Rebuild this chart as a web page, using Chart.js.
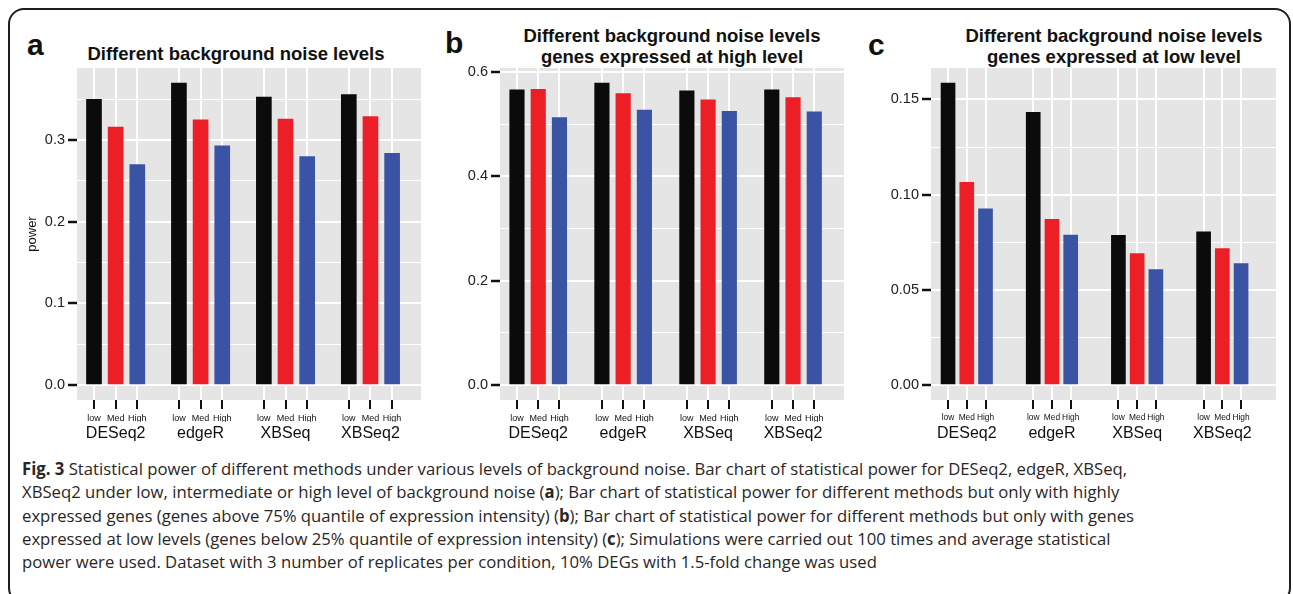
<!DOCTYPE html>
<html>
<head>
<meta charset="utf-8">
<title>Fig. 3 statistical power</title>
<script src="https://cdn.jsdelivr.net/npm/chart.js@4.4.1/dist/chart.umd.min.js"></script>
<style>
    html, body { margin: 0; padding: 0; background: #fff; }
    body {
        width: 1293px; height: 594px; position: relative; overflow: hidden;
        font-family: "Liberation Sans", Arial, sans-serif;
    }
    .frame {
        position: absolute; left: 8px; top: 8px; width: 1283px; height: 596px;
        border: 2px solid #1e1e1e; border-radius: 16px; box-sizing: border-box;
    }
    .panel-letter {
        position: absolute; font-size: 30px; line-height: 30px;
        font-weight: bold; color: #111;
    }
    .panel-title {
        position: absolute; width: 420px; text-align: center;
        font-size: 18.5px; line-height: 21.5px; font-weight: bold; color: #111;
    }
    canvas { position: absolute; }
    .caption {
        position: absolute; left: 22px; top: 457px;
        font-family: "Open Sans", sans-serif; font-size: 17px;
        line-height: 23.25px; color: #2a2627;
    }
    .caption div { white-space: nowrap; transform-origin: 0 0; }
</style>
</head>
<body>
<div class="frame"></div>

<div class="panel-letter" style="left:27px; top:29.5px;">a</div>
<div class="panel-letter" style="left:445px; top:27.5px;">b</div>
<div class="panel-letter" style="left:868px; top:29.5px;">c</div>

<div class="panel-title" style="left:26px; top:42.5px;">Different background noise levels</div>
<div class="panel-title" style="left:462px; top:24.6px;">Different background noise levels<br>genes expressed at high level</div>
<div class="panel-title" style="left:904px; top:24.6px;">Different background noise levels<br>genes expressed at low level</div>

<canvas id="chartA" width="411" height="384" style="left:15px; top:60px;"></canvas>
<canvas id="chartB" width="394" height="384" style="left:455px; top:60px;"></canvas>
<canvas id="chartC" width="401" height="384" style="left:880px; top:60px;"></canvas>

<div class="caption" id="caption">
    <div><b>Fig. 3</b> Statistical power of different methods under various levels of background noise. Bar chart of statistical power for DESeq2, edgeR, XBSeq,</div>
    <div>XBSeq2 under low, intermediate or high level of background noise (<b>a</b>); Bar chart of statistical power for different methods but only with highly</div>
    <div>expressed genes (genes above 75% quantile of expression intensity) (<b>b</b>); Bar chart of statistical power for different methods but only with genes</div>
    <div>expressed at low levels (genes below 25% quantile of expression intensity) (<b>c</b>); Simulations were carried out 100 times and average statistical</div>
    <div>power were used. Dataset with 3 number of replicates per condition, 10% DEGs with 1.5-fold change was used</div>
</div>

<script>
// Categories
const METHODS = ['DESeq2', 'edgeR', 'XBSeq', 'XBSeq2'];
const NOISE_LEVELS = ['low', 'Med', 'High'];

// Panel a: all genes
const allGenesLow = [0.350, 0.370, 0.353, 0.356];
const allGenesMed = [0.316, 0.325, 0.326, 0.329];
const allGenesHigh = [0.270, 0.293, 0.280, 0.284];
const allGenesTicks = [0, 0.1, 0.2, 0.3];

// Panel b: genes expressed at high level
const highExprLow = [0.566, 0.579, 0.564, 0.566];
const highExprMed = [0.567, 0.559, 0.547, 0.551];
const highExprHigh = [0.513, 0.527, 0.525, 0.524];
const highExprTicks = [0, 0.2, 0.4, 0.6];

// Panel c: genes expressed at low level
const lowExprLow = [0.1586, 0.1433, 0.0786, 0.0804];
const lowExprMed = [0.1064, 0.0870, 0.0690, 0.0717];
const lowExprHigh = [0.0925, 0.0787, 0.0606, 0.0638];
const lowExprTicks = [0, 0.05, 0.10, 0.15];

// Styling
const LEVEL_COLORS = ['#0b0b0b', '#ec1f26', '#3a53a4'];
const PANEL_GRAY = '#e5e5e5';
const FONT = '"Liberation Sans", Arial, sans-serif';
const X_MIN = -0.2;
const X_MAX = 3.85;

const PANELS = [
    { id: 'chartA', series: [allGenesLow, allGenesMed, allGenesHigh], ticks: allGenesTicks,
      decimals: 1, axisTitle: 'power', axisWidth: 62, levelStep: 0.255, barWidth: 15, levelFont: 9 },
    { id: 'chartB', series: [highExprLow, highExprMed, highExprHigh], ticks: highExprTicks,
      decimals: 1, axisTitle: '', axisWidth: 45, levelStep: 0.25, barWidth: 14.5, levelFont: 9 },
    { id: 'chartC', series: [lowExprLow, lowExprMed, lowExprHigh], ticks: lowExprTicks,
      decimals: 2, axisTitle: '', axisWidth: 51, levelStep: 0.22, barWidth: 14, levelFont: 8.4 }
];

// gray ggplot-like panel behind the grid
const panelBackground = {
    id: 'panelBackground',
    beforeDraw(chart) {
        const { ctx, chartArea: a } = chart;
        ctx.save();
        ctx.fillStyle = PANEL_GRAY;
        ctx.fillRect(a.left, a.top, a.right - a.left, a.bottom - a.top);
        ctx.restore();
    }
};

document.addEventListener('DOMContentLoaded', () => {
    PANELS.forEach(createPanelChart);
    document.fonts.ready.then(fitCaption);
});

function buildYTicks(majors, max) {
    const step = majors[1] - majors[0];
    const ticks = majors.map(v => ({ value: v }));
    majors.forEach(v => {
        const mid = v + step / 2;
        if (mid <= max) ticks.push({ value: mid, minor: true });
    });
    return ticks.sort((a, b) => a.value - b.value);
}

function createPanelChart(panel) {
    const canvas = document.getElementById(panel.id);
    if (!canvas) return;

    const yMax = Math.max(...panel.series.flat());
    const pad = yMax * 0.05;
    const xPos = (m, l) => m + l * panel.levelStep;

    const datasets = panel.series.map((values, l) => ({
        label: NOISE_LEVELS[l],
        data: values.map((v, m) => ({ x: xPos(m, l), y: v })),
        backgroundColor: LEVEL_COLORS[l],
        barThickness: panel.barWidth,
        grouped: false
    }));

    const levelTicks = [];
    METHODS.forEach((_, m) => NOISE_LEVELS.forEach((_, l) => levelTicks.push({ value: xPos(m, l) })));
    const methodTicks = METHODS.map((_, m) => ({ value: xPos(m, 1) }));
    const yTicks = buildYTicks(panel.ticks, yMax + pad);
    const isMinor = ctx => ctx.tick && ctx.tick.minor;

    new Chart(canvas, {
        type: 'bar',
        data: { datasets },
        options: {
            responsive: false,
            animation: false,
            layout: { padding: { top: 8, right: 5, bottom: 0, left: 0 } },
            plugins: { legend: { display: false }, tooltip: { enabled: false } },
            scales: {
                x: {
                    type: 'linear', position: 'bottom', min: X_MIN, max: X_MAX, offset: false,
                    afterBuildTicks: axis => { axis.ticks = levelTicks.map(t => ({ ...t })); },
                    afterFit: axis => { axis.height = 22; axis.paddingLeft = 0; axis.paddingRight = 0; },
                    ticks: {
                        autoSkip: false, maxRotation: 0, minRotation: 0, padding: 4,
                        font: { family: FONT, size: panel.levelFont }, color: '#111',
                        callback: (v, i) => NOISE_LEVELS[i % 3]
                    },
                    grid: { offset: false, color: '#ffffff', lineWidth: 2, tickColor: '#111', tickWidth: 2, tickLength: 9 },
                    border: { display: false }
                },
                x2: {
                    type: 'linear', position: 'bottom', min: X_MIN, max: X_MAX, offset: false,
                    afterBuildTicks: axis => { axis.ticks = methodTicks.map(t => ({ ...t })); },
                    afterFit: axis => { axis.height = 22; axis.paddingLeft = 0; axis.paddingRight = 0; },
                    ticks: {
                        autoSkip: false, maxRotation: 0, minRotation: 0, padding: -6,
                        font: { family: FONT, size: 16 }, color: '#111',
                        callback: (v, i) => METHODS[i]
                    },
                    grid: { display: false, offset: false },
                    border: { display: false }
                },
                y: {
                    type: 'linear', min: -pad, max: yMax + pad,
                    afterBuildTicks: axis => { axis.ticks = yTicks.map(t => ({ ...t })); },
                    afterFit: axis => { axis.width = panel.axisWidth; axis.paddingTop = 0; axis.paddingBottom = 0; },
                    ticks: {
                        autoSkip: false, padding: 3,
                        font: { family: FONT, size: 14.5 }, color: '#222',
                        callback: (v, i, ticks) => ticks[i].minor ? '' : v.toFixed(panel.decimals)
                    },
                    grid: {
                        color: '#ffffff',
                        lineWidth: ctx => isMinor(ctx) ? 1 : 2,
                        tickColor: ctx => isMinor(ctx) ? 'rgba(0,0,0,0)' : '#111',
                        tickWidth: 2.5,
                        tickLength: 9
                    },
                    border: { display: false },
                    title: {
                        display: !!panel.axisTitle, text: panel.axisTitle, color: '#111',
                        font: { family: FONT, size: 13 }, padding: { top: 10, bottom: 0 }
                    }
                }
            }
        },
        plugins: [panelBackground]
    });
}

// squeeze caption lines to the condensed width of the original typeface
function fitCaption() {
    const lines = document.querySelectorAll('#caption div');
    if (!lines.length) return;
    const natural = lines[0].scrollWidth;
    const scale = 1112 / natural;
    lines.forEach(line => { line.style.transform = `scaleX(${scale})`; });
}
</script>
</body>
</html>
